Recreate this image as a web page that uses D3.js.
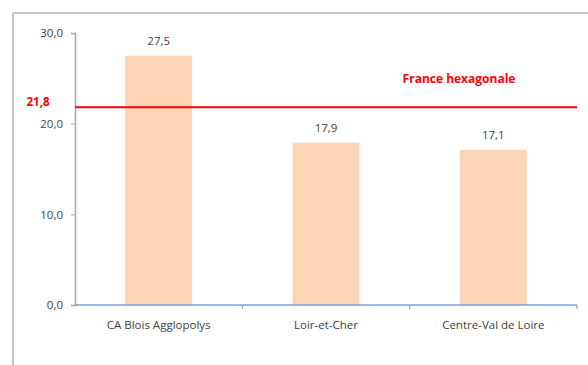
<!DOCTYPE html>
<html>
<head>
<meta charset="utf-8">
<script src="https://cdn.jsdelivr.net/npm/d3@7"></script>
<style>
  body { margin: 0; background: #fff; }
  text { font-family: "Open Sans", "Liberation Sans", sans-serif; }
</style>
</head>
<body>
<div id="plotDiv"></div>
<script>
var categories = ["CA Blois Agglopolys", "Loir-et-Cher", "Centre-Val de Loire"];
var values = [27.5, 17.9, 17.1];
var refValue = 21.8;
var refLabel = "France hexagonale";
var yTicks = [0, 10, 20, 30];

var W = 588, H = 365;
var margin = {top: 33, right: 11, bottom: 60, left: 75};

var svg = d3.select("#plotDiv").append("svg")
    .attr("width", W)
    .attr("height", H);

// outer frame, runs off the right and bottom edges
svg.append("rect")
    .attr("x", 13).attr("y", 13)
    .attr("width", 700).attr("height", 500)
    .attr("fill", "none")
    .attr("stroke", "#c4c4c4")
    .attr("stroke-width", 2);

var x = d3.scaleBand()
    .domain(categories)
    .range([margin.left, W - margin.right])
    .paddingInner(0.6)
    .paddingOuter(0.3);

var y = d3.scaleLinear()
    .domain([0, 30])
    .range([H - margin.bottom, margin.top]);

var fmt = function(v) { return d3.format(".1f")(v).replace(".", ","); };

// bars
svg.append("g").selectAll("rect")
    .data(values)
    .enter().append("rect")
    .attr("x", function(d, i) { return x(categories[i]); })
    .attr("y", function(d) { return y(d); })
    .attr("width", x.bandwidth())
    .attr("height", function(d) { return y(0) - y(d); })
    .attr("fill", "#fcd5b5");

// value labels
svg.append("g").selectAll("text")
    .data(values)
    .enter().append("text")
    .attr("x", function(d, i) { return x(categories[i]) + x.bandwidth() / 2; })
    .attr("y", function(d) { return y(d) - 11; })
    .attr("text-anchor", "middle")
    .attr("font-size", 11.5)
    .attr("fill", "#404040")
    .text(function(d) { return fmt(d); });

// y axis
var yAxis = svg.append("g")
    .attr("transform", "translate(" + margin.left + ",0)")
    .call(d3.axisLeft(y).tickValues(yTicks).tickSize(4).tickFormat(fmt));
yAxis.select(".domain").attr("stroke", "#a6a6a6").attr("stroke-width", 1.5);
yAxis.selectAll(".tick line").attr("stroke", "#a6a6a6");
yAxis.selectAll(".tick text")
    .attr("x", -12)
    .attr("font-size", 11.5)
    .attr("fill", "#404040")
    .style("font-family", "'Open Sans', sans-serif");

// x axis
var xBand = d3.scaleLinear().domain([0, 3]).range([margin.left, W - margin.right]);
var xAxis = svg.append("g")
    .attr("transform", "translate(0," + y(0) + ")");
xAxis.append("line")
    .attr("x1", xBand(0)).attr("x2", xBand(3))
    .attr("stroke", "#7da0d0").attr("stroke-width", 1.5);
xAxis.selectAll(".xt")
    .data([1, 2, 3])
    .enter().append("line")
    .attr("x1", function(d) { return xBand(d); })
    .attr("x2", function(d) { return xBand(d); })
    .attr("y1", 0).attr("y2", 4)
    .attr("stroke", "#7da0d0");
xAxis.selectAll("text")
    .data(categories)
    .enter().append("text")
    .attr("x", function(d) { return x(d) + x.bandwidth() / 2; })
    .attr("y", 24)
    .attr("text-anchor", "middle")
    .attr("font-size", 11.5)
    .attr("fill", "#404040")
    .text(function(d) { return d; });

// reference line
svg.append("line")
    .attr("x1", margin.left).attr("x2", W - margin.right)
    .attr("y1", y(refValue)).attr("y2", y(refValue))
    .attr("stroke", "#ff0000").attr("stroke-width", 2);
svg.append("text")
    .attr("x", 38).attr("y", y(refValue) - 1)
    .attr("text-anchor", "middle")
    .attr("font-size", 11.5)
    .attr("font-weight", "bold")
    .attr("fill", "#ff0000")
    .text(fmt(refValue));
svg.append("text")
    .attr("x", 459).attr("y", y(refValue) - 24)
    .attr("text-anchor", "middle")
    .attr("font-size", 12)
    .attr("font-weight", "bold")
    .attr("fill", "#ff0000")
    .text(refLabel);
</script>
</body>
</html>
